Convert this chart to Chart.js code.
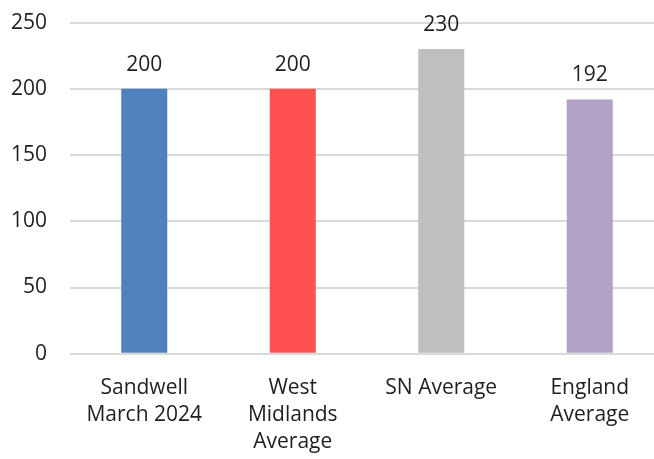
<!DOCTYPE html>
<html>
<head>
<meta charset="utf-8">
<script src="https://cdn.jsdelivr.net/npm/chart.js@4.4.1/dist/chart.umd.min.js"></script>
<style>
  html, body { margin: 0; padding: 0; background: #fff; overflow: hidden; }
  #wrap { width: 664px; height: 490px; margin-top: -13px; position: relative; }
</style>
</head>
<body>
<div id="wrap"><canvas id="chart"></canvas></div>
<script>
const categories = [
    ['Sandwell', 'March 2024'],
    ['West', 'Midlands', 'Average'],
    'SN Average',
    ['England', 'Average']
];
const values = [200, 200, 230, 192];
const barColors = ['#4F81BD', '#FF5050', '#BFBFBF', '#B3A2C7'];
const yTicks = [0, 50, 100, 150, 200, 250];

// Draw value labels above each bar
const valueLabels = {
    id: 'valueLabels',
    afterDatasetsDraw(chart) {
        const ctx = chart.ctx;
        const meta = chart.getDatasetMeta(0);
        ctx.save();
        ctx.font = '21px "Open Sans"';
        ctx.fillStyle = '#1f1f1f';
        ctx.textAlign = 'center';
        ctx.textBaseline = 'middle';
        meta.data.forEach((bar, i) => {
            ctx.fillText(values[i], bar.x, bar.y - 24);
        });
        ctx.restore();
    }
};

new Chart(document.getElementById('chart').getContext('2d'), {
    type: 'bar',
    data: {
        labels: categories,
        datasets: [{
            data: values,
            backgroundColor: barColors,
            categoryPercentage: 1,
            barPercentage: 0.31
        }]
    },
    options: {
        responsive: true,
        maintainAspectRatio: false,
        animation: false,
        layout: { padding: 0 },
        plugins: {
            legend: { display: false },
            tooltip: { enabled: false }
        },
        scales: {
            x: {
                grid: { display: false, drawTicks: false },
                border: { display: false },
                ticks: {
                    color: '#1f1f1f',
                    font: { family: 'Open Sans', size: 21, lineHeight: 1.29 },
                    padding: 21,
                    maxRotation: 0,
                    autoSkip: false
                }
            },
            y: {
                min: 0,
                max: 250,
                afterBuildTicks(axis) {
                    axis.ticks = yTicks.map(v => ({ value: v }));
                },
                afterFit(axis) {
                    axis.width = 70;
                },
                grid: { color: '#D9D9D9', lineWidth: 2, drawTicks: false },
                border: { display: false },
                ticks: {
                    color: '#1f1f1f',
                    font: { family: 'Open Sans', size: 21 },
                    padding: 23
                }
            }
        }
    },
    plugins: [valueLabels]
});
</script>
</body>
</html>
